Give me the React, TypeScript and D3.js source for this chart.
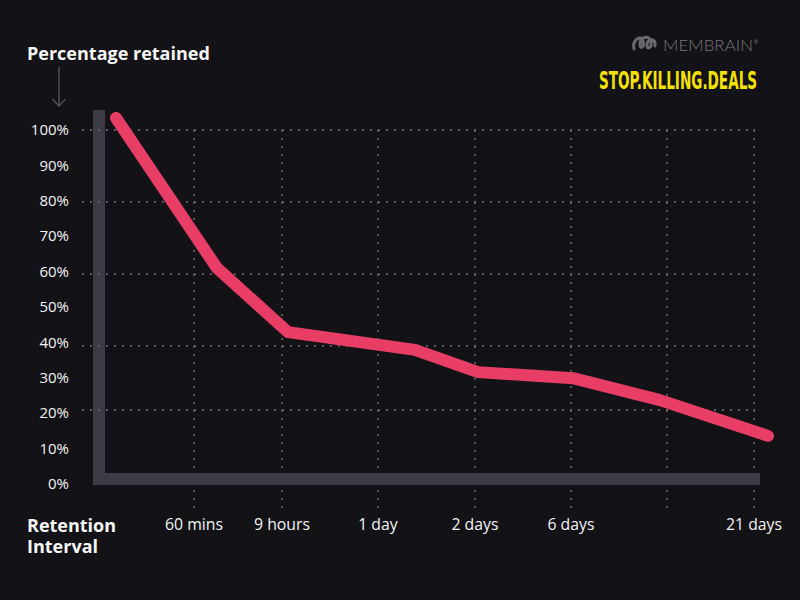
import React from "react";
import * as d3 from "d3";

// Data
const pointX: number[] = [3.71, 18.14, 28.29, 46.43, 55.43, 69.0, 81.43, 96.86];
const pointY: number[] = [103.4, 61.0, 42.9, 37.9, 31.6, 29.9, 23.7, 13.6];
const xTickPos: number[] = [14.86, 27.43, 41.14, 55.0, 68.71, 82.43, 94.86];
const xTickLabels: string[] = ["60 mins", "9 hours", "1 day", "2 days", "6 days", "", "21 days"];
const yTickValues: number[] = [0, 10, 20, 30, 40, 50, 60, 70, 80, 90, 100];
const yGridValues: number[] = [100, 79.7, 59.3, 39.0, 20.9];

const W = 800;
const H = 600;

export default function App() {
  const x = d3.scaleLinear().domain([0, 100]).range([90, 790]);
  const y = d3.scaleLinear().domain([0, 100]).range([484, 130]);
  const line = d3
    .line<number>()
    .x((_, i) => x(pointX[i]))
    .y((d) => y(d));
  const pathD = line(pointY) || "";
  const font = "'Open Sans', 'Noto Sans', sans-serif";
  const dotColor = "#6a6a70";
  const barColor = "#3d3c44";
  const gridLeft = 82;
  const gridRight = x(xTickPos[xTickPos.length - 1]) + 1;

  return (
    <svg
      width={W}
      height={H}
      style={{ position: "absolute", left: 0, top: 0, display: "block" }}
      fontFamily={font}
    >
      <rect x={0} y={0} width={W} height={H} fill="#131217" />

      {/* vertical dotted gridlines */}
      {xTickPos.map((v, i) => (
        <line
          key={"vg" + i}
          x1={x(v)}
          x2={x(v)}
          y1={y(100)}
          y2={508}
          stroke={dotColor}
          strokeWidth={1.8}
          strokeDasharray="1.8 6.2"
        />
      ))}

      {/* axis bars */}
      <rect x={93} y={110} width={12} height={375} fill={barColor} />
      <rect x={93} y={473} width={667} height={12} fill={barColor} />

      {/* horizontal dotted gridlines */}
      {yGridValues.map((v, i) => (
        <line
          key={"hg" + i}
          x1={gridLeft}
          x2={gridRight}
          y1={y(v)}
          y2={y(v)}
          stroke={dotColor}
          strokeWidth={1.8}
          strokeDasharray="1.8 6.2"
        />
      ))}

      {/* y tick labels */}
      {yTickValues.map((v) => (
        <text
          key={"yl" + v}
          x={69}
          y={y(v)}
          dy="0.35em"
          textAnchor="end"
          fill="#f2f2f2"
          fontSize={15}
        >
          {v + "%"}
        </text>
      ))}

      {/* x tick labels */}
      {xTickPos.map((v, i) =>
        xTickLabels[i] ? (
          <text
            key={"xl" + i}
            x={x(v)}
            y={530}
            textAnchor="middle"
            fill="#f2f2f2"
            fontSize={15.8}
          >
            {xTickLabels[i]}
          </text>
        ) : null
      )}

      {/* data line */}
      <path
        d={pathD}
        fill="none"
        stroke="#e83e66"
        strokeWidth={12}
        strokeLinecap="round"
        strokeLinejoin="round"
      />

      {/* axis titles */}
      <text x={27} y={60} fill="#f7f7f7" fontSize={18} fontWeight={700}>
        Percentage retained
      </text>
      <g stroke="#4e4e54" strokeWidth={1.5} fill="none">
        <line x1={59} y1={67} x2={59} y2={106} />
        <polyline points="52.5,99 59,106 65.5,99" />
      </g>
      <text x={27} y={532} fill="#f7f7f7" fontSize={18} fontWeight={700}>
        <tspan x={27} y={532}>Retention</tspan>
        <tspan x={27} y={553}>Interval</tspan>
      </text>

      {/* logo */}
      <g stroke="#6a6a6e" strokeWidth={3} fill="none" strokeLinecap="round">
        <path d="M634,49 C632,40 641,34 643,41 C645,48 639,50 640,43 C641,36 650,35 651,42 C652,49 646,50 647,44 C648,38 656,38 655,46" />
      </g>
      <text
        x={663}
        y={51}
        fill="#77777b"
        fontSize={16.5}
        fontFamily="Lato, 'Open Sans', sans-serif"
        fontWeight={300}
        textLength={90}
        lengthAdjust="spacingAndGlyphs"
      >
        MEMBRAIN
      </text>
      <text x={754} y={44} fill="#77777b" fontSize={5}>
        ®
      </text>
      <g transform="translate(599,88.5) scale(0.62,1)">
        <text
          x={0}
          y={0}
          fill="#f5e100"
          fontSize={25}
          fontWeight={700}
          fontFamily="'DejaVu Sans Condensed', 'DejaVu Sans', sans-serif"
          textLength={255}
          lengthAdjust="spacingAndGlyphs"
        >
          STOP.KILLING.DEALS
        </text>
      </g>
    </svg>
  );
}
